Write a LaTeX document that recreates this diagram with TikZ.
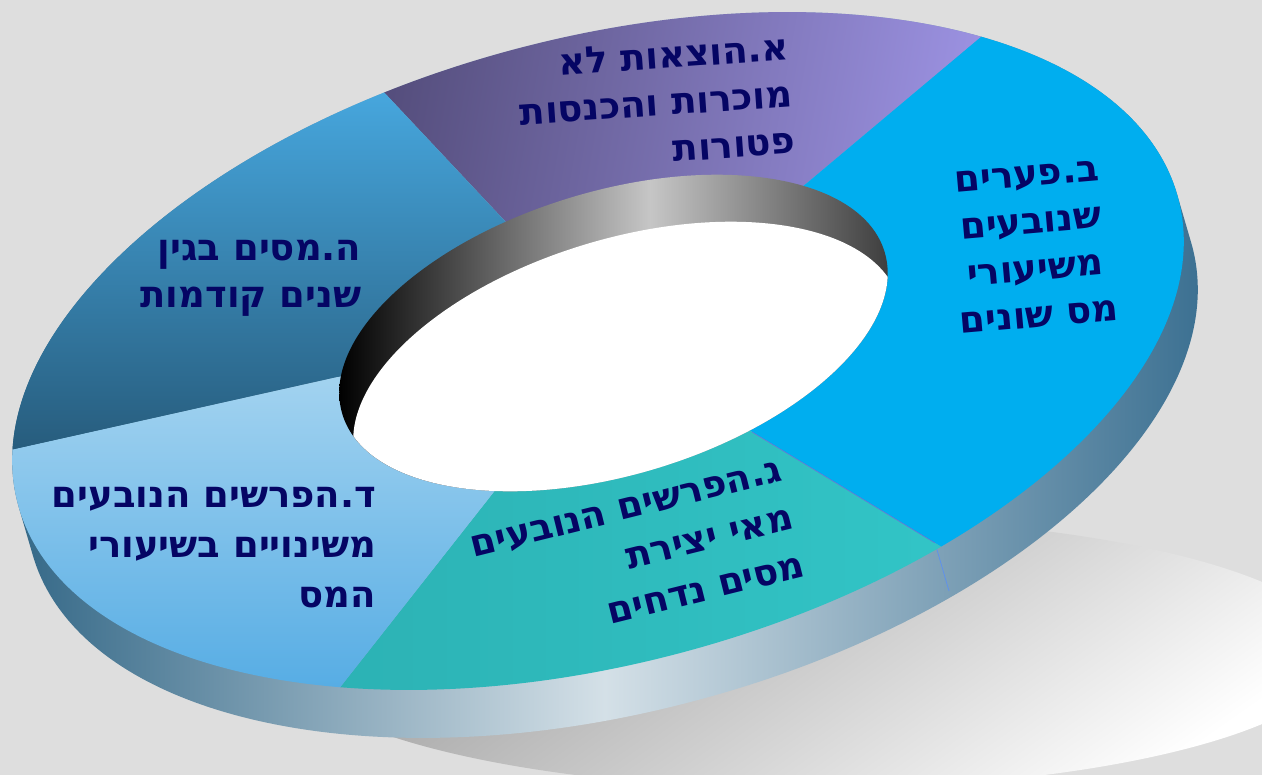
\documentclass[tikz,border=0pt]{standalone}
\usepackage{fontspec}
\newfontfamily\hebfont[Script=Hebrew]{DejaVu Sans Bold}
\TeXXeTstate=1
\usetikzlibrary{calc}
\definecolor{bg}{RGB}{222,222,222}
\definecolor{navy}{RGB}{5,5,100}
\definecolor{secB}{RGB}{0,174,239}
\definecolor{purA1}{RGB}{85,78,125}
\definecolor{purA2}{RGB}{156,146,226}
\definecolor{tealA}{RGB}{44,178,180}
\definecolor{tealB}{RGB}{50,197,199}
\definecolor{ltA}{RGB}{165,212,240}
\definecolor{ltB}{RGB}{85,172,228}
\definecolor{hA}{RGB}{72,170,226}
\definecolor{hB}{RGB}{38,90,122}
\definecolor{wallL}{RGB}{40,95,128}
\definecolor{wallM}{RGB}{212,224,231}
\definecolor{wallR}{RGB}{50,105,140}
\definecolor{innerMid}{RGB}{198,198,198}
\definecolor{edgeline}{RGB}{105,115,215}
\definecolor{walledge}{RGB}{95,145,235}
\tikzset{
  lbl/.style={text=navy, font=\hebfont\fontsize{37}{47}\selectfont, align=right, inner sep=0pt},
}
\begin{document}
\begin{tikzpicture}[x=1pt,y=1pt]
\useasboundingbox (0,0) rectangle (1262,775);
\fill[bg] (0,0) rectangle (1262,775);
% shadow
\shade[top color=black!40, bottom color=white, shading angle=35] (810,122) ellipse [x radius=530pt, y radius=136pt];
% key points
\coordinate (O) at (598,424);
\coordinate (C) at (613.5,442);
\coordinate (H) at (627.5,395);
\coordinate (P1) at (807,592);  \coordinate (Q1) at (975,733);
\coordinate (P2) at (752,343);  \coordinate (Q2) at (935,232);
\coordinate (P3) at (493,282);  \coordinate (Q3) at (338,85);
\coordinate (P4) at (337,398);  \coordinate (Q4) at (10,325);
\coordinate (P5) at (504,555);  \coordinate (Q5) at (380,687);
\coordinate (R1) at (1479,1156);
\coordinate (R2) at (1484,-101);
\coordinate (R3) at (-127,-506);
\coordinate (R4) at (-971,106);
\coordinate (R5) at (8,1083);
\coordinate (MA) at (997,2050);
\coordinate (MB) at (2665,682);
\coordinate (MG) at (751,-1262);
\coordinate (MD) at (-2021,-980);
\coordinate (MH) at (-1895,826);
\coordinate (Q2b) at ($(Q2)+(14,-48)$);
% outer wall
\begin{scope}[shift={(O)}, rotate=14.7]
\shade[left color=wallL, right color=wallR, middle color=wallM]
  (0.8:600pt and 313pt) arc[start angle=0.8, end angle=180.8, x radius=600pt, y radius=313pt]
  -- ++(1.36,-49.98) arc[start angle=180.8, end angle=360.8, x radius=600pt, y radius=313pt] -- cycle;
\end{scope}
\draw[walledge, line width=0.8pt] (Q2) -- (Q2b);
% top surface sectors
\begin{scope}
\clip[rotate around={14.7:(O)}] (O) ellipse [x radius=600pt, y radius=313pt];
\begin{scope}
\clip (C) -- (P5) -- (R5) -- (MA) -- (R1) -- (P1) -- cycle;
\shade[left color=purA1, right color=purA2, shading angle=80] (360,540) rectangle (1000,780);
\end{scope}
\fill[secB] (C) -- (P1) -- (R1) -- (MB) -- (R2) -- (P2) -- cycle;
\begin{scope}
\clip (C) -- (P2) -- (R2) -- (MG) -- (R3) -- (P3) -- cycle;
\shade[left color=tealA, right color=tealB] (330,70) rectangle (960,360);
\end{scope}
\begin{scope}
\clip (C) -- (P3) -- (R3) -- (MD) -- (R4) -- (P4) -- cycle;
\shade[top color=ltA, bottom color=ltB] (0,80) rectangle (520,410);
\end{scope}
\begin{scope}
\clip (C) -- (P4) -- (R4) -- (MH) -- (R5) -- (P5) -- cycle;
\shade[top color=hA, bottom color=hB] (0,315) rectangle (520,700);
\end{scope}
\draw[edgeline, line width=0.6pt] (P2) -- (Q2);
\end{scope}
% inner wall and hole
\begin{scope}
\clip[rotate around={16.6:(C)}] (C) ellipse [x radius=283pt, y radius=142pt];
\shade[left color=black, right color=black!92, middle color=innerMid] (339,250) rectangle (961,640);
\fill[white, rotate around={16.6:(H)}] (H) ellipse [x radius=283pt, y radius=142pt];
\end{scope}
% labels
\node[lbl, rotate=4, font=\hebfont\fontsize{37}{47}\selectfont] (ta) at (656,672)
  {\beginR א.הוצאות לא\endR\\\beginR מוכרות והכנסות\endR\\\beginR פטורות\endR};
\node[lbl, align=center, rotate=5] (tb) at (1033,528)
  {\beginR ב.פערים\endR\\\beginR שנובעים\endR\\\beginR משיעורי\endR\\\beginR מס שונים\endR};
\node[lbl, rotate=14, font=\hebfont\fontsize{37}{49}\selectfont] (tg) at (638,218)
  {\beginR ג.הפרשים הנובעים\endR\\\beginR מאי יצירת\endR\\\beginR מסים נדחים\endR};
\node[lbl, font=\hebfont\fontsize{37}{50}\selectfont] (td) at (214,227)
  {\beginR ד.הפרשים הנובעים\endR\\\beginR משינויים בשיעורי\endR\\\beginR המס\endR};
\node[lbl] (th) at (251,497)
  {\beginR ה.מסים בגין\endR\\\beginR שנים קודמות\endR};
\end{tikzpicture}
\end{document}
